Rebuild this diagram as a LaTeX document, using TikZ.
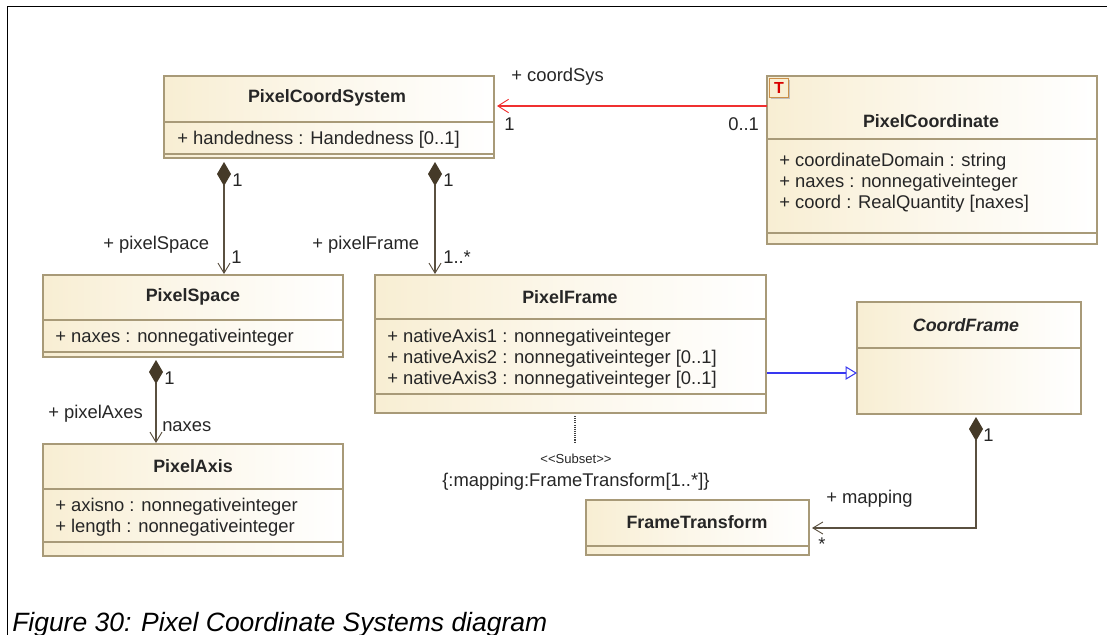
\documentclass[tikz,border=0pt]{standalone}
\usepackage{fontspec}
\setmainfont{Liberation Sans}
\usetikzlibrary{arrows.meta,shadows,calc}
\definecolor{edgeC}{HTML}{A89A78}
\definecolor{fillC}{HTML}{F8EED3}
\definecolor{lineC}{HTML}{5A5040}
\definecolor{diaC}{HTML}{453A28}
\definecolor{txtC}{HTML}{262626}
\definecolor{redC}{HTML}{F03030}
\definecolor{bluC}{HTML}{3838F0}
\tikzset{
 x=0.75pt,y=-0.75pt,
 cls/.style={draw=edgeC,line width=1.1pt,left color=fillC,right color=white,middle color=fillC!45!white,inner sep=0,outer sep=0,
   general shadow={shadow xshift=1pt,shadow yshift=-1pt,fill=black!12}},
 div/.style={draw=edgeC,line width=0.9pt},
 nm/.style={font=\bfseries\fontsize{13.4}{15}\selectfont,text=txtC,inner sep=0},
 att/.style={font=\fontsize{13.8}{15}\selectfont,text=txtC,inner sep=0,anchor=west,yshift=-1pt},
 lab/.style={font=\fontsize{13.8}{15}\selectfont,text=txtC,inner sep=0,yshift=-1pt},
 comp/.style={draw=lineC,line width=0.9pt,{Diamond[length=18pt,width=10.5pt,fill=diaC,color=diaC]}-{Straight Barb[length=7.5pt,width=9pt,color=lineC,line width=0.7pt]}},
 redline/.style={draw=redC,line width=0.9pt,-{Straight Barb[length=8pt,width=10pt,color=redC,line width=0.7pt]}},
 gen/.style={draw=bluC,line width=0.9pt,-{Triangle[open,length=8.5pt,width=10pt,color=bluC,fill=white,line width=0.8pt]}},
}
\newcommand{\umlbox}[5]{\node[cls,minimum width={(#4-#2)*0.75pt},minimum height={(#5-#3)*0.75pt}] (#1) at ({(#2+#4)/2},{(#3+#5)/2}) {};}
\newcommand{\umldiv}[2]{\draw[div] (#1.west |- 0,#2) -- (#1.east |- 0,#2);}
\begin{document}
\begin{tikzpicture}
\useasboundingbox (0,0) rectangle (1107,635);
\draw[black,line width=0.75pt] (7.5,635) -- (7.5,6.5) -- (1107,6.5);
% classes
\umlbox{csys}{164}{76}{494}{158}
\umldiv{csys}{122}\umldiv{csys}{154}
\node[nm] (csysN) at (327,98) {PixelCoordSystem};
\node[att] (csysA) at (177,138) {+ handedness : Handedness [0..1]};

\umlbox{pcoord}{767}{76}{1097}{244}
\umldiv{pcoord}{139}\umldiv{pcoord}{233}
\node[nm] (pcoordN) at (931,121) {PixelCoordinate};
\node[att] (pc1) at (779,160) {+ coordinateDomain : string};
\node[att] (pc2) at (779,181) {+ naxes : nonnegativeinteger};
\node[att] (pc3) at (779,202) {+ coord : RealQuantity [naxes]};
\node[draw=edgeC!60!orange,line width=1.1pt,fill=fillC,minimum width=14.5pt,minimum height=14.5pt,inner sep=0,text=red!85!black,font=\bfseries\fontsize{12}{12}\selectfont,
   general shadow={shadow xshift=1pt,shadow yshift=-1pt,fill=black!25}] (ticon) at (779,88) {T};

\umlbox{spc}{43}{275}{343}{357}
\umldiv{spc}{320}\umldiv{spc}{352}
\node[nm] (spcN) at (193,297) {PixelSpace};
\node[att] (spcA) at (55,336) {+ naxes : nonnegativeinteger};

\umlbox{frm}{375}{275}{766}{413}
\umldiv{frm}{319}\umldiv{frm}{394}
\node[nm] (frmN) at (570,297) {PixelFrame};
\node[att] (f1) at (387,336) {+ nativeAxis1 : nonnegativeinteger};
\node[att] (f2) at (387,357) {+ nativeAxis2 : nonnegativeinteger [0..1]};
\node[att] (f3) at (387,378) {+ nativeAxis3 : nonnegativeinteger [0..1]};

\umlbox{cf}{857}{302}{1081}{414}
\umldiv{cf}{348}
\node[nm,font=\bfseries\itshape\fontsize{13.4}{15}\selectfont] (cfN) at (966,325) {CoordFrame};

\umlbox{axis}{43}{444}{343}{556}
\umldiv{axis}{489}\umldiv{axis}{542}
\node[nm] (axisN) at (193,466) {PixelAxis};
\node[att] (a1) at (55,505) {+ axisno : nonnegativeinteger};
\node[att] (a2) at (55,526) {+ length : nonnegativeinteger};

\umlbox{ft}{586}{500}{809}{555}
\umldiv{ft}{546}
\node[nm] (ftN) at (697,522) {FrameTransform};

% connectors
\draw[comp] ($(csys.south west)+(60,4)$) -- ($(spc.north west)+(181,-1)$);
\draw[comp] ($(csys.south west)+(271,4)$) -- ($(frm.north west)+(60,-1)$);
\draw[comp] ($(spc.south west)+(113,3)$) -- ($(axis.north west)+(113,-1)$);
\draw[redline] ($(pcoord.north west)+(0,30)$) -- ($(csys.north east)+(3,30)$);
\draw[gen] ($(frm.south east)+(1,-40)$) -- ($(cf.north west)+(0,71)$);
\draw[comp] ($(cf.south west)+(119,3)$) |- ($(ft.south east)+(3,-27)$);
\coordinate (subEnd) at (575,443);
\draw[black!75,line width=0.8pt,dash pattern=on 0.8pt off 0.8pt] ($(frm.south west)+(200,3)$) -- (subEnd);

% labels
\node[lab,anchor=west] (l1) at (232,179) {1};
\node[lab,anchor=west] (l2) at (231,256) {1};
\node[lab,anchor=west] (l3) at (443,179) {1};
\node[lab,anchor=west] (l4) at (443,256) {1..*};
\node[lab,anchor=west] (l5) at (103,243) {+ pixelSpace};
\node[lab,anchor=west] (l6) at (312,243) {+ pixelFrame};
\node[lab,anchor=west] (l7) at (511,75) {+ coordSys};
\node[lab,anchor=west] (l8) at (504,123) {1};
\node[lab,anchor=west] (l9) at (728,123) {0..1};
\node[lab,anchor=west] (l10) at (164,377) {1};
\node[lab,anchor=west] (l11) at (48,412) {+ pixelAxes};
\node[lab,anchor=west] (l12) at (162,425) {naxes};
\node[lab,anchor=west] (l13) at (983,434) {1};
\node[lab,anchor=west] (l14) at (826,497) {+ mapping};
\node[lab,anchor=west] (l15) at (818,543) {*};
\node[lab,font=\fontsize{9.8}{10}\selectfont] (l16) at (576,457) {<{}<Subset>{}>};
\node[lab,anchor=west] (l17) at (442,480) {\{:mapping:FrameTransform[1..*]\}};
\node[anchor=base west,inner sep=0,text=black,font=\itshape\fontsize{19.85}{22}\selectfont] (cap) at (12,631) {Figure 30: Pixel Coordinate Systems diagram};
\end{tikzpicture}
\end{document}
